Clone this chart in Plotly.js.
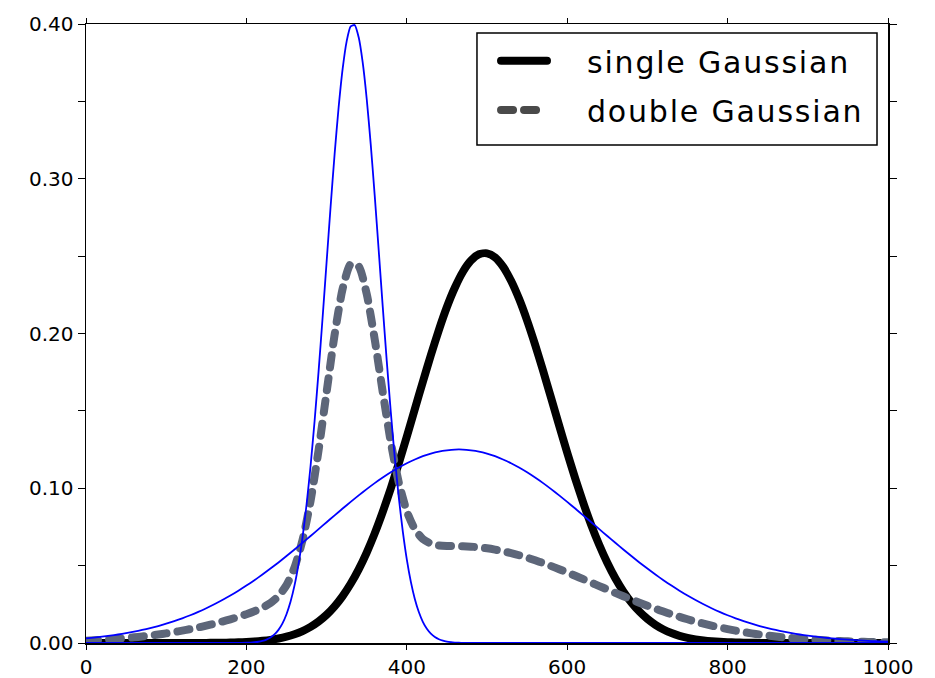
<!DOCTYPE html>
<html>
<head>
<meta charset="utf-8">
<script src="https://cdn.plot.ly/plotly-3.0.1.min.js"></script>
<style>
html,body{margin:0;padding:0;background:#fff;}
#chart{width:935px;height:678px;}
path.js-line{stroke-linecap:round;}
.shapelayer path{stroke-linecap:round;}
text.annotation-text{letter-spacing:1.8px;}
</style>
</head>
<body>
<div id="chart"></div>
<script>
// x positions of the samples (thick curves and wide component)
const xValues = [0,10,20,30,40,50,60,70,80,90,100,110,120,130,140,150,160,170,180,190,
  200,210,220,230,240,250,260,270,280,290,300,310,320,330,340,350,360,370,380,390,
  400,410,420,430,440,450,460,470,480,490,500,510,520,530,540,550,560,570,580,590,
  600,610,620,630,640,650,660,670,680,690,700,710,720,730,740,750,760,770,780,790,
  800,810,820,830,840,850,860,870,880,890,900,910,920,930,940,950,960,970,980,990,1000];

// thick black curve
const singleGaussian = [0,0,0,0,0,0,0,0,0,0,0,0,0,0,0,0.00007,0.00012,0.00018,0.00028,0.00043,
  0.00065,0.00096,0.00141,0.00203,0.0029,0.00408,0.00566,0.00774,0.01045,0.01392,
  0.01828,0.02369,0.03031,0.03825,0.0476,0.05847,0.07084,0.0847,0.09989,0.1162,
  0.1334,0.1511,0.1688,0.186,0.2023,0.2171,0.2297,0.2399,0.2471,0.2512,
  0.2518,0.2492,0.2432,0.2341,0.2224,0.2084,0.1927,0.1758,0.1582,0.1404,
  0.123,0.1063,0.0906,0.0762,0.0633,0.0518,0.0418,0.0333,0.02618,0.02031,
  0.01555,0.01173,0.00874,0.00642,0.00465,0.00333,0.00235,0.00163,0.00112,0.00076,
  0.00051,0.00033,0.00021,0.00013,0.00008,0,0,0,0,0,0,0,0,0,0,0,0,0,0,0,0];

// thick dashed grey curve
const doubleGaussian = [0.00149,0.00174,0.00203,0.00237,0.00275,0.00318,0.00366,0.00421,0.00481,0.00549,
  0.00624,0.00707,0.00798,0.00897,0.01005,0.01123,0.0125,0.01387,0.01533,0.0169,
  0.01862,0.02053,0.0228,0.02582,0.03028,0.0374,0.04881,0.06652,0.09178,0.12455,
  0.16213,0.19925,0.22894,0.2448,0.2434,0.22557,0.1962,0.16215,0.1299,0.10375,
  0.08515,0.07355,0.0672,0.06423,0.06307,0.0627,0.06265,0.0625,0.06225,0.06185,
  0.0612,0.06035,0.0593,0.0581,0.0567,0.05515,0.05345,0.05165,0.04972,0.0477,
  0.0456,0.04344,0.04125,0.03903,0.0368,0.03458,0.03237,0.03021,0.0281,0.02603,
  0.02405,0.02213,0.0203,0.01855,0.0169,0.01533,0.01387,0.0125,0.01123,0.01005,
  0.00897,0.00798,0.00707,0.00624,0.00549,0.00481,0.00421,0.00366,0.00318,0.00275,
  0.00237,0.00203,0.00174,0.00149,0.00126,0.00107,0.0009,0.00076,0.00064,0.00053,0.00044];

// thin blue narrow component (denser sampling around its peak)
const narrowX = [0,100,190,200,205,210,215,220,225,230,235,240,245,250,255,260,265,270,275,280,
  285,290,295,300,305,310,315,320,325,330,335,340,345,350,355,360,365,370,375,380,
  385,390,395,400,405,410,415,420,425,430,435,440,445,450,455,460,465,470,480,600,1000];
const narrowComponent = [0,0,0.00004,0.00015,0.00027,0.00047,0.00081,0.00135,0.00221,0.00354,
  0.00554,0.00849,0.0127,0.0186,0.0266,0.0372,0.051,0.0683,0.0894,0.1144,
  0.1433,0.1755,0.2102,0.2462,0.2821,0.316,0.3462,0.371,0.3888,0.3984,
  0.3993,0.3914,0.3752,0.3517,0.3224,0.2891,0.2535,0.2174,0.1823,0.1495,
  0.1199,0.0941,0.0722,0.0541,0.0397,0.0285,0.02,0.0137,0.00921,0.00605,
  0.00388,0.00244,0.0015,0.0009,0.00053,0.0003,0.00017,0.0001,0,0,0];

// thin blue wide component
const wideComponent = [0.00297,0.00348,0.00406,0.00473,0.00549,0.00635,0.00732,0.00841,0.00962,0.01097,
  0.01247,0.01413,0.01595,0.01794,0.0201,0.02246,0.025,0.02774,0.03066,0.03379,
  0.03709,0.04059,0.04425,0.04809,0.05206,0.05619,0.06041,0.06474,0.06915,0.07359,
  0.07805,0.08249,0.08688,0.0912,0.0954,0.09944,0.1033,0.1069,0.1103,0.1134,
  0.1162,0.1186,0.1207,0.1224,0.1237,0.1245,0.125,0.125,0.1245,0.1237,
  0.1224,0.1207,0.1186,0.1162,0.1134,0.1103,0.1069,0.1033,0.09944,0.0954,
  0.0912,0.08688,0.08249,0.07805,0.07359,0.06915,0.06474,0.06041,0.05619,0.05206,
  0.04809,0.04425,0.04059,0.03709,0.03379,0.03066,0.02774,0.025,0.02246,0.0201,
  0.01794,0.01595,0.01413,0.01247,0.01097,0.00962,0.00841,0.00732,0.00635,0.00549,
  0.00473,0.00406,0.00348,0.00297,0.00252,0.00214,0.0018,0.00152,0.00127,0.00106,0.00088];

const seriesNames = ['single Gaussian', 'double Gaussian'];
const xTicks = [0, 200, 400, 600, 800, 1000];
const yTicks = [0, 0.1, 0.2, 0.3, 0.4];

const FONT = 'DejaVu Sans, Liberation Sans, sans-serif';
const DASH = '12px,11px';
const GREY = '#5d6679';

const traces = [
  {x: xValues, y: singleGaussian, type: 'scatter', mode: 'lines', name: seriesNames[0],
   line: {color: '#000000', width: 8, shape: 'spline', smoothing: 0.6}},
  {x: xValues, y: doubleGaussian, type: 'scatter', mode: 'lines', name: seriesNames[1],
   line: {color: GREY, width: 8, dash: DASH, shape: 'spline', smoothing: 0.6}},
  {x: narrowX, y: narrowComponent, type: 'scatter', mode: 'lines', name: 'narrow',
   line: {color: '#0000ff', width: 1.8, shape: 'spline', smoothing: 0.6}},
  {x: xValues, y: wideComponent, type: 'scatter', mode: 'lines', name: 'wide',
   line: {color: '#0000ff', width: 1.8, shape: 'spline', smoothing: 0.6}}
];

// legend drawn as shapes + text, in paper coordinates of the plot area
const legendBox = {x0: 0.4875, x1: 0.9863, y0: 0.8045, y1: 0.9855};
const legendRows = [0.9407, 0.8611];
const sampleX = [0.5175, 0.5748];
const legendTextX = 0.6222;

const shapes = [
  {type: 'rect', xref: 'paper', yref: 'paper', x0: legendBox.x0, x1: legendBox.x1, y0: legendBox.y0, y1: legendBox.y1,
   fillcolor: '#ffffff', line: {color: '#000000', width: 1.5}, layer: 'above'},
  {type: 'line', xref: 'paper', yref: 'paper', x0: sampleX[0], x1: sampleX[1], y0: legendRows[0], y1: legendRows[0],
   line: {color: '#000000', width: 8}, layer: 'above'},
  {type: 'line', xref: 'paper', yref: 'paper', x0: sampleX[0], x1: sampleX[1], y0: legendRows[1], y1: legendRows[1],
   line: {color: '#4a4a4a', width: 8, dash: DASH}, layer: 'above'}
];

const annotations = seriesNames.map((name, i) => ({
  xref: 'paper', yref: 'paper', x: legendTextX, y: legendRows[i] - 0.003,
  xanchor: 'left', yanchor: 'middle', text: name, showarrow: false,
  font: {family: FONT, size: 30, color: '#000000'}
}));

const layout = {
  width: 935, height: 678,
  margin: {l: 86, r: 47, t: 24, b: 35},
  paper_bgcolor: '#ffffff', plot_bgcolor: '#ffffff',
  font: {family: FONT, color: '#000000', size: 20},
  showlegend: false,
  shapes: shapes,
  annotations: annotations,
  xaxis: {
    range: [0, 1000], tickvals: xTicks, ticktext: xTicks.map(String),
    ticks: 'outside', ticklen: 5, tickwidth: 1, tickcolor: '#000000',
    showline: true, linecolor: '#000000', linewidth: 1.5, mirror: 'ticks',
    showgrid: false, zeroline: false,
    tickfont: {family: FONT, size: 20, color: '#000000'}
  },
  yaxis: {
    range: [0, 0.4], tickvals: yTicks, tickformat: '.2f',
    ticks: 'outside', ticklen: 7, tickwidth: 1, tickcolor: '#000000',
    minor: {dtick: 0.05, ticks: 'outside', ticklen: 7, tickwidth: 1, tickcolor: '#000000', showgrid: false},
    showline: true, linecolor: '#000000', linewidth: 1.5, mirror: 'ticks',
    showgrid: false, zeroline: false,
    tickfont: {family: FONT, size: 20, color: '#000000'}
  }
};

Plotly.newPlot('chart', traces, layout, {displayModeBar: false, staticPlot: true});
</script>
</body>
</html>
